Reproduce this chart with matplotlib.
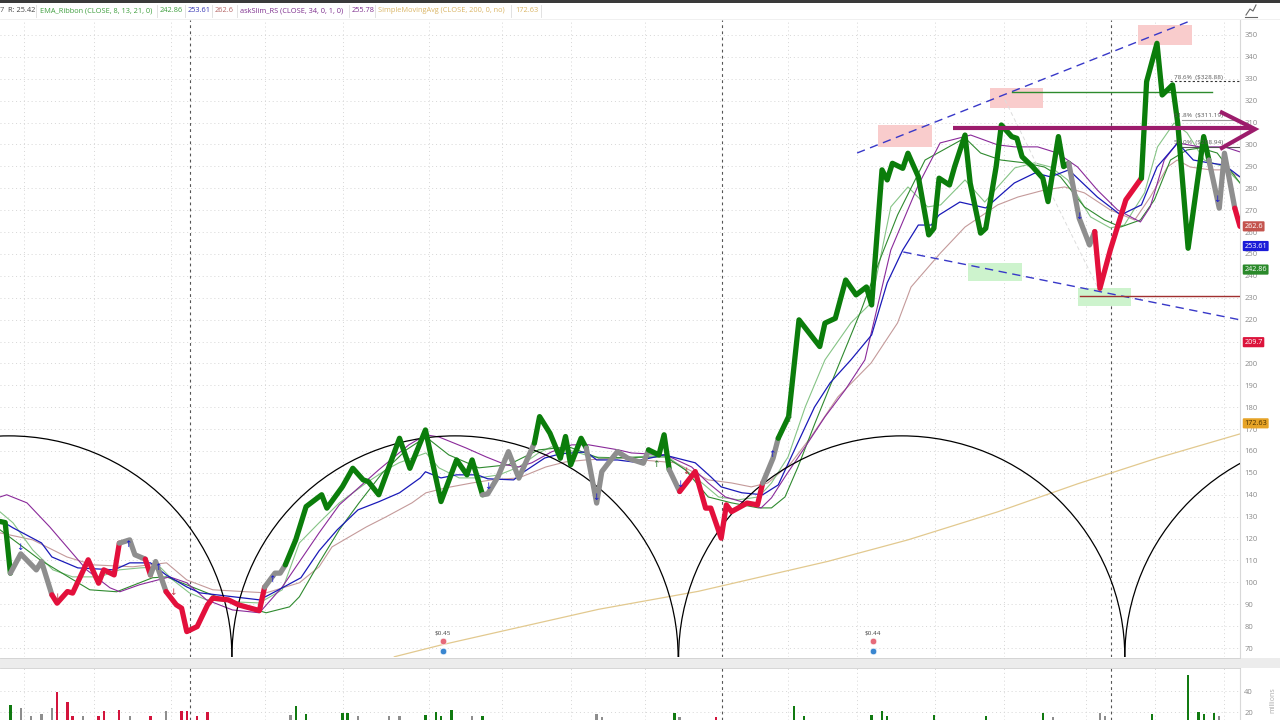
import matplotlib
matplotlib.use("Agg")
import matplotlib.pyplot as plt
from matplotlib.patches import Arc, Rectangle
import matplotlib.transforms as mtransforms

plt.rcParams['font.family'] = ['Open Sans', 'DejaVu Sans']

# ---------------- data ----------------
# weekly close (turning points of the line), week index, price, trend state
close_week = [0, 1, 2, 4, 7, 8, 10, 11, 13, 14, 17, 19, 20, 22, 23, 25, 26, 28, 29, 30,
              32, 34, 35, 36, 38, 40, 41, 44, 46, 50, 51, 53, 54, 55, 57, 59, 62, 63, 66, 68,
              70, 71, 73, 77, 79, 82, 85, 88, 90, 91, 93, 94, 96, 98, 100, 103, 104, 106, 108, 109,
              110, 112, 113, 115, 116, 117, 119, 121, 124, 125, 127, 128, 129, 131, 134, 136, 137, 139, 140, 141,
              144, 146, 147, 149, 150, 152, 154, 158, 159, 161, 163, 165, 167, 168, 170, 171, 172, 174, 175, 177,
              179, 180, 181, 183, 184, 186, 187, 189, 190, 192, 193, 195, 196, 197, 199, 201, 202, 204, 205, 206,
              208, 210, 211, 212, 214, 217, 220, 221, 223, 224, 226, 227, 229, 232, 233, 235, 236, 238, 239]
close_price = [127.8, 127.3, 104.2, 113.0, 105.7, 109.5, 94.3, 90.5, 95.8, 95.1, 110.3, 99.6, 105.7, 103.4, 117.9, 119.4, 112.6, 110.6, 103.4, 109.5,
               95.8, 89.7, 88.2, 77.5, 79.8, 89.7, 92.8, 92.0, 89.7, 87.1, 97.8, 104.2, 104.2, 108.0, 119.4, 134.6, 140.0, 133.9, 143.7, 152.1,
               146.8, 146.0, 140.0, 165.8, 152.1, 169.6, 136.9, 155.9, 149.1, 155.9, 140.0, 140.4, 148.3, 159.7, 147.6, 163.6, 175.7, 168.1, 156.7, 166.6,
               153.7, 165.8, 161.3, 136.2, 150.6, 153.7, 159.7, 156.7, 154.4, 160.5, 158.2, 167.4, 151.4, 141.5, 150.6, 133.9, 133.9, 120.2, 135.4, 132.3,
               136.2, 135.4, 145.3, 156.7, 165.8, 175.7, 219.9, 207.7, 218.4, 220.6, 238.1, 231.3, 234.9, 226.7, 288.4, 283.8, 291.4, 289.1, 296.0, 285.3,
               258.7, 261.7, 284.6, 281.5, 289.9, 304.3, 282.3, 259.5, 261.7, 289.9, 308.9, 303.6, 302.8, 294.4, 289.9, 284.6, 273.9, 303.6, 289.9, 291.4,
               266.3, 254.1, 260.2, 234.3, 251.8, 274.7, 284.6, 328.7, 346.2, 322.6, 327.2, 309.7, 252.6, 303.6, 292.9, 270.9, 296.0, 270.9, 262.6]
# state of the segment that starts at each point: g = up (green), r = down (red), n = neutral (grey)
close_state = ("ggnnnnrrrr" "rrrrnnnrnn"
               "rrrrrrrrrr" "nnnggggggg"
               "gggggggggg" "nnnnnggggg"
               "ggnnnnnnng" "ggnrrrrrrr"
               "rrnngggggg" "gggggggggg"
               "gggggggggg" "gggggggggn"
               "nnrrrrgggg" "ggggnnnrr")

ema_fast_week = [0, 2.5, 6.3, 10.2, 14, 19.2, 23, 27, 30.8, 33.3, 36.5, 39.8, 44.8, 50, 54.4, 57.7, 61.5, 65.4, 70.6, 74.4,
                 76.9, 82.1, 84.6, 88.5, 92.3, 96.2, 100, 103.8, 106.3, 111, 114, 119.2, 128.3, 134.6, 138.5, 142.3, 146.2, 148.7, 151.9, 155.2,
                 159, 164, 167.9, 171.7, 175, 178.8, 181.3, 186, 189.8, 192.3, 195.6, 199.4, 202.5, 205.8, 210.2, 214, 216.7, 220.6, 223.1, 226.3,
                 228.8, 232.1, 236, 239]
ema_fast = [132.2, 127.2, 114.8, 105.7, 102.5, 102.5, 105.7, 106.6, 107.1, 101.1, 95.2, 92.0, 91.1, 90.6, 96.6, 118.0, 127.2, 136.3, 145.4, 151.4,
            154.6, 159.1, 152.3, 147.7, 147.7, 149.1, 152.7, 159.1, 161.9, 159.6, 157.3, 156.8, 158.2, 146.8, 139.0, 137.7, 139.0, 145.4, 157.3, 180.1,
            201.6, 218.5, 227.6, 271.5, 280.6, 271.5, 272.4, 283.8, 273.7, 280.6, 289.3, 291.6, 289.7, 283.8, 266.9, 261.9, 263.2, 277.9, 298.9, 309.8,
            305.3, 292.9, 289.7, 282.4]

ema_mid_week = [0, 7.7, 17.3, 22.5, 29.4, 32.1, 44.8, 51.3, 55.8, 57.7, 61.5, 65.4, 69.2, 73.7, 78.3, 82.1, 86.5, 92.3, 98, 103.8,
                109.6, 115.4, 128.3, 132.1, 136.5, 141, 146.2, 148.7, 151.3, 153.8, 157.1, 161.5, 166, 169.8, 173, 178.3, 186, 189, 192.9, 197.5,
                201.3, 204.4, 209, 212.9, 216, 219.8, 222.5, 225.6, 228.8, 231.3, 234.6, 239]
ema_mid = [124.0, 110.3, 96.6, 95.7, 102.1, 102.5, 90.6, 86.1, 88.8, 93.4, 108.9, 124.0, 136.3, 150.0, 160.5, 166.4, 158.2, 152.3, 153.7, 160.5,
           161.9, 156.8, 157.3, 151.4, 139.0, 136.3, 134.0, 134.0, 139.0, 152.7, 172.8, 198.4, 224.4, 248.6, 267.8, 292.9, 303.0, 296.1, 292.9, 291.6,
           289.7, 285.2, 271.5, 265.5, 262.3, 265.5, 274.7, 292.9, 297.5, 298.4, 296.1, 282.4]

ema_slow_week = [0, 2.5, 8, 10, 15, 22, 25, 29, 32, 36, 38.5, 45, 50, 53, 58, 61.5, 65, 69, 73, 77,
                 81, 82, 85, 88, 92, 94, 99, 101, 105, 108, 113, 115, 119, 122, 128, 134, 137, 139, 143, 147,
                 150, 152.5, 157, 160, 164, 168, 171, 174, 177, 179.5, 181, 185, 190, 195.5, 199.5, 202.5, 206, 211.5, 216, 220,
                 223, 227, 230, 233, 236, 239]
ema_slow = [128.5, 124.9, 118.0, 111.6, 106.6, 105.7, 108.9, 108.9, 103.4, 97.9, 95.2, 93.4, 92.0, 95.7, 102.1, 114.4, 124.0, 133.1, 136.8, 140.9,
            147.7, 150.5, 147.7, 149.1, 149.1, 147.3, 146.8, 150.5, 156.8, 158.7, 159.6, 155.9, 155.9, 155.0, 158.2, 154.6, 148.2, 143.6, 140.9, 140.0,
            144.5, 157.3, 180.1, 191.1, 201.6, 213.0, 236.8, 251.8, 263.2, 263.2, 267.8, 273.7, 271.0, 282.4, 287.0, 285.2, 288.4, 276.0, 267.8, 272.4,
            289.7, 300.7, 292.9, 291.6, 290.6, 285.2]

ema_long_week = [0, 6.3, 12.9, 17.9, 25.6, 32.1, 36, 41, 47.5, 51.3, 57.7, 61.5, 64, 70.6, 74.4, 79.4, 82.1, 86, 91, 94.8,
                 100, 105.2, 109, 112.9, 119.2, 130.2, 136.5, 141, 144.8, 148, 152.5, 156.3, 161.5, 167.9, 173, 175.6, 181.3, 186, 192.3, 196.2,
                 201.3, 205.2, 209, 214, 218.7, 221.7, 225, 226.9, 229.4, 233.3, 236, 239]
ema_long = [122.6, 119.4, 111.6, 108.0, 107.1, 108.9, 101.1, 96.6, 95.7, 95.2, 99.8, 107.1, 116.2, 125.3, 129.9, 136.3, 140.9, 143.2, 145.4, 146.8,
            147.7, 152.7, 155.0, 155.9, 156.8, 154.6, 146.8, 145.4, 143.6, 145.4, 154.6, 166.4, 184.7, 200.2, 218.5, 234.9, 250.5, 262.3, 272.4, 276.0,
            279.2, 280.6, 277.9, 270.1, 265.5, 276.0, 289.7, 292.9, 289.7, 288.4, 288.4, 285.2]

rs_week = [0, 1.3, 5.2, 9.6, 12.9, 16.7, 21.2, 23.1, 26.9, 32.7, 36, 39.8, 44.8, 50, 54.4, 61.5, 65.4, 73, 78.8, 82.1,
           84.6, 89.8, 93.7, 97.5, 100, 102.5, 106.3, 110.2, 113.5, 119.2, 121.7, 128.3, 133.3, 136.5, 139.8, 143.7, 146.7, 148.7, 151.3, 155.2,
           159, 162.9, 166.7, 171.7, 177, 181.2, 187.1, 192.3, 195.6, 200, 203.8, 207.7, 211.5, 215.4, 219.8, 221.7, 224.4, 226.9, 231.3, 236, 239]
rs_line = [139.0, 140.0, 136.3, 125.3, 116.2, 105.7, 97.5, 95.7, 98.9, 102.5, 99.8, 92.0, 87.4, 86.1, 97.9, 122.6, 135.4, 151.4, 162.8, 167.4,
           166.4, 161.4, 157.3, 153.7, 152.7, 154.6, 159.6, 162.8, 162.8, 160.5, 159.1, 158.2, 152.7, 145.4, 139.0, 136.3, 134.0, 138.6, 148.2, 161.9,
           175.6, 187.9, 201.6, 251.8, 281.5, 300.7, 304.3, 299.8, 298.9, 298.9, 296.1, 289.7, 279.2, 270.1, 264.6, 271.5, 292.9, 300.7, 298.9, 298.9, 296.6]

sma_week = [76, 85.2, 115.4, 134.6, 159.6, 175, 192.3, 207.7, 223.1, 239]
sma_200 = [66.0, 71.5, 87.7, 95.9, 109.6, 119.4, 132.2, 145.0, 156.8, 167.8]

vol_week = [2, 4, 6, 8, 10, 11, 13, 14, 16, 19, 20, 23, 25, 29, 32, 35, 36, 38, 40, 56,
            57, 59, 66, 67, 69, 75, 77, 82, 84, 85, 87, 91, 93, 115, 116, 130, 131, 138, 153, 155,
            168, 170, 171, 180, 190, 201, 203, 212, 213, 222, 229, 231, 232, 234, 235]
vol_mil = [26.7, 23.8, 16.2, 18.1, 23.8, 39.0, 29.5, 16.2, 16.2, 16.2, 21.0, 21.9, 16.2, 16.2, 21.0, 21.0, 21.0, 16.2, 20.0, 17.1,
           25.7, 18.1, 19.0, 19.0, 16.2, 16.2, 16.2, 17.1, 20.0, 16.2, 21.9, 16.2, 16.2, 18.1, 15.2, 19.0, 15.2, 15.2, 25.7, 16.2,
           17.1, 21.0, 16.2, 17.1, 16.2, 19.0, 15.2, 19.0, 16.2, 18.1, 55.2, 20.0, 18.1, 19.0, 16.2]
vol_state = "gnnnnrrrnrrrnrnrrrrnggggnnnggggngnngnrggggggggnnngggggn"

cycle_center_week = [1.7, 87.7, 173.8, 259.8]
cycle_marker_week = [36.6, 139.2, 214.1]
vgrid_week = [4.6, 18.1, 33.0, 51.1, 66.1, 82.7, 96.8, 110.1, 124.3, 151.9, 165.2, 180.2, 193.5, 209.3, 222.6, 235.9]

dividend_week = [85.4, 168.3]
dividend_label = ["$0.45", "$0.44"]

up_arrow = [(24.6, 117.1, '#1a1ad0'), (30.4, 107.0, '#1a1ad0'), (52.5, 101.1, '#1a1ad0'), (126.5, 153.7, '#2a7a2a'),
            (148.7, 158.2, '#1a1ad0'), (152.0, 174.2, '#2a7a2a')]
down_arrow = [(3.8, 115.7, '#1a1ad0'), (11.0, 93.0, '#c03040'), (33.3, 95.2, '#c03040'), (94.0, 143.6, '#1a1ad0'),
              (114.8, 138.6, '#1a1ad0'), (131.0, 144.5, '#1a1ad0'), (132.3, 150.5, '#c03040'), (208.0, 266.9, '#1a1ad0'),
              (234.6, 274.7, '#1a1ad0')]

right_labels = [(262.6, "262.6", '#c4544e', 'white'), (253.61, "253.61", '#1c1cd8', 'white'),
                (242.86, "242.86", '#2b8a2b', 'white'), (209.7, "209.7", '#dc143c', 'white'),
                (172.63, "172.63", '#e6a326', '#4a3000')]
price_ticks = [v for v in range(70, 351, 10) if v != 210]

header = [(0, "7", "#555555"), (8, "R: 25.42", "#444444"),
          (40, "EMA_Ribbon (CLOSE, 8, 13, 21, 0)", "#3f9f3f"), (160, "242.86", "#3f9f3f"),
          (188, "253.61", "#3535b5"), (215, "262.6", "#b56565"),
          (240, "askSlim_RS (CLOSE, 34, 0, 1, 0)", "#7d2d8d"), (352, "255.78", "#7d2d8d"),
          (378, "SimpleMovingAvg (CLOSE, 200, 0, no)", "#dab565"), (515, "172.63", "#dab565")]

# ---------------- figure ----------------
W, H = 1280, 720
fig = plt.figure(figsize=(12.8, 7.2), dpi=100)
fig.patch.set_facecolor('white')

XMAX = 239.0
YLO, YHI = 65.9, 356.85
ax = fig.add_axes([0, 1 - 657 / H, 1240 / W, (657 - 20) / H])
ax.set_xlim(0, XMAX)
ax.set_ylim(YLO, YHI)
for s in ['top', 'left', 'bottom']:
    ax.spines[s].set_visible(False)
ax.spines['right'].set_color('#d8d8d8')
ax.spines['right'].set_linewidth(0.8)
ax.yaxis.tick_right()
ax.set_yticks(price_ticks)
ax.tick_params(axis='y', length=0, pad=3, labelsize=5.5, labelcolor='#8a8a8a')
ax.set_xticks([])
for yv in range(70, 351, 10):
    ax.axhline(yv, color='#d6d6d6', lw=0.7, ls=(0, (1, 3)), zorder=0)
for xv in vgrid_week:
    ax.axvline(xv, color='#d6d6d6', lw=0.7, ls=(0, (1, 3)), zorder=0)
for xv in cycle_marker_week:
    ax.axvline(xv, color='#555555', lw=0.8, ls=(0, (2.5, 3)), zorder=1)

# rectangles (zones)
pink = '#f9cccc'
lgreen = '#cdf3cd'
zones = [(169.2, 179.6, 298.9, 309.0, pink), (190.8, 201.0, 316.7, 325.8, pink), (219.3, 229.8, 345.4, 354.6, pink),
         (186.6, 197.0, 237.7, 245.9, lgreen), (207.8, 218.0, 226.3, 234.5, lgreen)]
for x0, x1, y0, y1, c in zones:
    ax.add_patch(Rectangle((x0, y0), x1 - x0, y1 - y0, color=c, zorder=1, lw=0))

# SMA 200
ax.plot(sma_week, sma_200, color='#e2c98f', lw=0.9, zorder=2)

# thin lines
ax.plot(ema_long_week, ema_long, color='#c49a9a', lw=0.8, zorder=2)
ax.plot(ema_fast_week, ema_fast, color='#86c486', lw=0.8, zorder=2)
ax.plot(ema_mid_week, ema_mid, color='#2f8a2f', lw=0.8, zorder=2)
ax.plot(rs_week, rs_line, color='#8a2a9a', lw=0.8, zorder=2)
ax.plot(ema_slow_week, ema_slow, color='#1a1ab8', lw=0.9, zorder=2)

# cycle arcs
for c in cycle_center_week:
    ax.add_patch(Arc((c, YLO), 2 * 43.0, 2 * 101.0, theta1=0, theta2=180, color='black', lw=0.9, zorder=3))

# trend lines
ax.plot([165.2, 229.8], [296.1, 356.8], color='#3838c8', lw=1.0, ls=(0, (6, 4)), zorder=3)
ax.plot([174.1, 239], [250.9, 219.9], color='#3838c8', lw=1.0, ls=(0, (6, 4)), zorder=3)
ax.plot([193.7, 212.0], [320.3, 232.6], color='#dddddd', lw=0.7, ls=(0, (4, 3)), zorder=2)
ax.plot([195.1, 233.6], [324.0, 324.0], color='#2e8b2e', lw=1.0, zorder=3)
ax.plot([208.2, 239], [230.8, 230.8], color='#a03030', lw=1.0, zorder=3)

# fib levels
ax.plot([225.5, 239], [328.88, 328.88], color='#333333', lw=0.8, ls=(0, (2, 2)), zorder=3)
ax.plot([227.8, 239], [311.19, 311.19], color='#999999', lw=0.8, zorder=3)
ax.plot([227.4, 239], [298.94, 298.94], color='#555555', lw=0.8, zorder=3)
ax.text(226.3, 330.0, "78.6%  ($328.88)", fontsize=4.6, color='#555555', zorder=5)
ax.text(226.3, 312.4, "61.8%  ($311.19)", fontsize=4.6, color='#555555', zorder=5)
ax.text(226.3, 300.2, "50.0%  ($298.94)", fontsize=4.6, color='#555555', zorder=5)

# thick close line coloured by trend state
col = {'g': '#0b7d0b', 'r': '#e3103c', 'n': '#8e8e8e'}
i = 0
n = len(close_week)
while i < n - 1:
    st = close_state[i]
    j = i
    while j < n - 1 and close_state[j] == st:
        j += 1
    ax.plot(close_week[i:j + 1], close_price[i:j + 1], color=col[st], lw=3.8,
            solid_joinstyle='round', solid_capstyle='round', zorder=4)
    i = j

# arrows
for xw, yp, c in up_arrow:
    ax.text(xw, yp, '↑', fontsize=6.5, color=c, ha='center', va='center', family='DejaVu Sans', zorder=5)
for xw, yp, c in down_arrow:
    ax.text(xw, yp, '↓', fontsize=6.5, color=c, ha='center', va='center', family='DejaVu Sans', zorder=5)

# magenta arrow
mag = '#9c1c6c'
ax.plot([183.6, 241.2], [307.5, 307.5], color=mag, lw=3.0, clip_on=False, zorder=6, solid_capstyle='butt')
ax.plot([235.5, 241.9, 235.5], [314.6, 307.0, 298.4], color=mag, lw=3.0, clip_on=False, zorder=6,
        solid_joinstyle='miter')

# dividends
for xw, lab in zip(dividend_week, dividend_label):
    ax.text(xw, 77.0, lab, fontsize=4.6, color='#444444', ha='center', va='center', zorder=5)
    ax.scatter([xw], [73.2], s=22, color='#e66a7a', zorder=5, edgecolors='white', linewidths=0.4)
    ax.scatter([xw], [68.8], s=22, color='#3a86d0', zorder=5, edgecolors='white', linewidths=0.4)

# right labels
trans = mtransforms.blended_transform_factory(ax.transAxes, ax.transData)
for val, txt, bg, fg in right_labels:
    ax.text(1.0035, val, txt, transform=trans, fontsize=5.2, color=fg, ha='left', va='center',
            bbox=dict(boxstyle='round,pad=0.22,rounding_size=0.15', fc=bg, ec='none'), clip_on=False, zorder=7)

# ---------------- volume panel ----------------
axv = fig.add_axes([0, 0, 1240 / W, (720 - 668) / H])
axv.set_xlim(0, XMAX)
axv.set_ylim(12.4, 61.9)
for s in ['top', 'left', 'bottom']:
    axv.spines[s].set_visible(False)
axv.spines['right'].set_color('#d8d8d8')
axv.yaxis.tick_right()
axv.set_yticks([20, 40])
axv.tick_params(axis='y', length=0, pad=3, labelsize=5.5, labelcolor='#8a8a8a')
axv.set_xticks([])
for yv in [20, 40]:
    axv.axhline(yv, color='#d6d6d6', lw=0.7, ls=(0, (1, 3)), zorder=0)
for xv in vgrid_week:
    axv.axvline(xv, color='#d6d6d6', lw=0.7, ls=(0, (1, 3)), zorder=0)
for xv in cycle_marker_week:
    axv.axvline(xv, color='#555555', lw=0.8, ls=(0, (2.5, 3)), zorder=1)
vcol = {'g': '#117a11', 'r': '#d3143c', 'n': '#8e8e8e'}
axv.bar(vol_week, vol_mil, bottom=0, width=0.45,
        color=[vcol[s] for s in vol_state], zorder=2)
fig.text(1273 / W, 1 - 700 / H, "millions", rotation=90, fontsize=5, color='#aaaaaa', ha='center', va='center')

# separator band between panels
fig.patches.append(Rectangle((0, 1 - 668 / H), 1, 10 / H, transform=fig.transFigure, fc='#ececec', ec='none', zorder=0))
fig.add_artist(plt.Line2D([0, 1240 / W], [1 - 658 / H, 1 - 658 / H], transform=fig.transFigure, color='#d0d0d0', lw=0.6))
fig.add_artist(plt.Line2D([0, 1240 / W], [1 - 668 / H, 1 - 668 / H], transform=fig.transFigure, color='#d0d0d0', lw=0.6))

# top strip & header
fig.patches.append(Rectangle((0, 1 - 3 / H), 1, 3 / H, transform=fig.transFigure, fc='#3a3a3a', ec='none'))
for x0, t, c in header:
    fig.text(x0 / W, 1 - 11 / H, t, fontsize=5.3, color=c, ha='left', va='center')
for xs in [36, 157, 185, 212, 237, 349, 375, 511, 541]:
    fig.add_artist(plt.Line2D([xs / W, xs / W], [1 - 17 / H, 1 - 5 / H], transform=fig.transFigure,
                              color='#dddddd', lw=0.6))
fig.add_artist(plt.Line2D([0, 1], [1 - 19 / H, 1 - 19 / H], transform=fig.transFigure, color='#eeeeee', lw=0.6))
# chart-type icon at top right
fig.add_artist(plt.Line2D([1246 / W, 1250 / W, 1253 / W, 1256 / W], [1 - 15 / H, 1 - 9 / H, 1 - 11 / H, 1 - 5 / H],
                          transform=fig.transFigure, color='#666666', lw=0.8))
fig.add_artist(plt.Line2D([1245 / W, 1257 / W], [1 - 17 / H, 1 - 17 / H], transform=fig.transFigure, color='#666666', lw=0.8))

fig.savefig("out.png", dpi=100, facecolor='white')
